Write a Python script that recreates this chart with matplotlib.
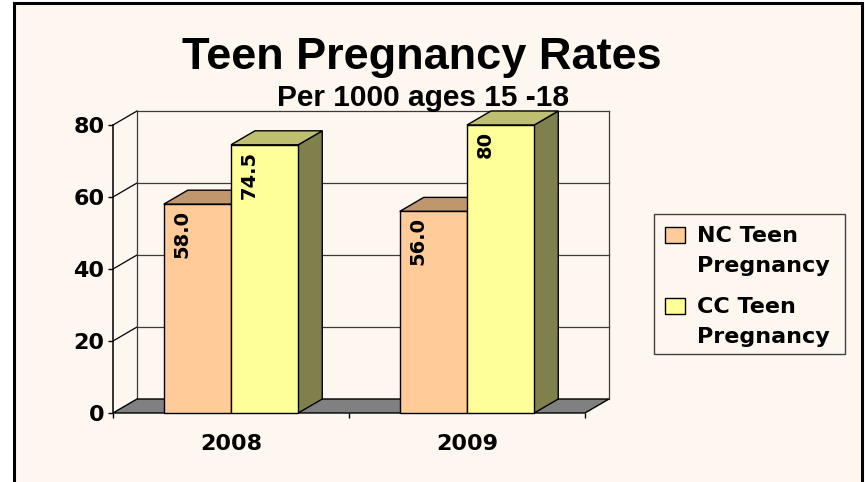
import matplotlib
matplotlib.use('Agg')
import matplotlib.pyplot as plt
from matplotlib.patches import Rectangle, Polygon

# ---- data ----
categories = ['2008', '2009']
series_names = ['NC Teen\nPregnancy', 'CC Teen\nPregnancy']
nc_values = [58.0, 56.0]
cc_values = [74.5, 80.0]
nc_labels = ['58.0', '56.0']
cc_labels = ['74.5', '80']
y_ticks = [0, 20, 40, 60, 80]

title = 'Teen Pregnancy Rates'
subtitle = 'Per 1000 ages 15 -18'

# ---- style ----
W, H = 865, 482
BG = '#FEF7EF'
NC_FRONT, NC_TOP, NC_SIDE = '#FFCC99', '#C0976C', '#80664C'
CC_FRONT, CC_TOP, CC_SIDE = '#FFFF99', '#BFBF72', '#80804C'
GRID = '#3A3A3A'

fig = plt.figure(figsize=(W / 100, H / 100), dpi=100)
fig.patch.set_facecolor('white')

# chart area background + border
fig.add_artist(Rectangle((14 / W, -0.05), (862 - 14) / W, 1.05 - 3 / H,
                         transform=fig.transFigure, facecolor=BG,
                         edgecolor='black', linewidth=2.2, zorder=-5))

ax = fig.add_axes([113 / W, (H - 413) / H, 472 / W, 288 / H])
ax.set_xlim(-0.5, 1.5)
ax.set_ylim(0, 80)
ax.patch.set_visible(False)
for s in ['top', 'right', 'bottom']:
    ax.spines[s].set_visible(False)
ax.spines['left'].set_linewidth(1.1)
ax.spines['left'].set_zorder(2)

# depth offset (in data units)
DX = 24 / 236
DY = 14 / 3.6

# back wall and side wall lines
x_left, x_right = -0.5, 1.5
for v in y_ticks:
    if v > 0:
        ax.plot([x_left + DX, x_right + DX], [v + DY, v + DY], color=GRID,
                lw=0.9, clip_on=False, zorder=1)
        ax.plot([x_left, x_left + DX], [v, v + DY], color='black',
                lw=0.9, clip_on=False, zorder=1)
ax.plot([x_left + DX] * 2, [DY, y_ticks[-1] + DY], color=GRID, lw=0.9,
        clip_on=False, zorder=1)
ax.plot([x_right + DX] * 2, [DY, y_ticks[-1] + DY], color=GRID, lw=0.9,
        clip_on=False, zorder=1)

# floor
ax.add_patch(Polygon([(x_left, 0), (x_right, 0), (x_right + DX, DY),
                      (x_left + DX, DY)], closed=True, facecolor='#808080',
                     edgecolor='black', lw=1, clip_on=False, zorder=1.5))

# bars
bw = 0.285


def bar3d(x0, h, front, top, side, z):
    ax.add_patch(Polygon([(x0 + bw, 0), (x0 + bw, h), (x0 + bw + DX, h + DY),
                          (x0 + bw + DX, DY)], closed=True, facecolor=side,
                         edgecolor='black', lw=1, clip_on=False, zorder=z))
    ax.add_patch(Polygon([(x0, h), (x0 + bw, h), (x0 + bw + DX, h + DY),
                          (x0 + DX, h + DY)], closed=True, facecolor=top,
                         edgecolor='black', lw=1, clip_on=False, zorder=z))
    ax.add_patch(Rectangle((x0, 0), bw, h, facecolor=front, edgecolor='black',
                           lw=1, clip_on=False, zorder=z))


for i, cat in enumerate(categories):
    bar3d(i - bw, nc_values[i], NC_FRONT, NC_TOP, NC_SIDE, 3)
    bar3d(i, cc_values[i], CC_FRONT, CC_TOP, CC_SIDE, 4)
    ax.text(i - bw + 0.076, nc_values[i] - 1.6, nc_labels[i], rotation=90,
            ha='center', va='top', fontsize=14, fontweight='bold', zorder=6)
    ax.text(i + 0.076, cc_values[i] - 1.6, cc_labels[i], rotation=90,
            ha='center', va='top', fontsize=14, fontweight='bold', zorder=6)

# axes ticks
ax.set_yticks(y_ticks)
ax.set_yticklabels([str(v) for v in y_ticks], fontsize=16, fontweight='bold')
ax.tick_params(axis='y', length=3.6, width=1, pad=2.5, direction='out')
ax.set_xticks(range(len(categories)))
ax.set_xticklabels(categories, fontsize=16, fontweight='bold')
ax.set_xticks([-0.5, 0.5, 1.5], minor=True)
ax.tick_params(axis='x', which='major', length=0, pad=15)
ax.tick_params(axis='x', which='minor', length=3.6, width=1, direction='out')

# titles
fig.text(422 / W, 1 - 57 / H, title, ha='center', va='center', fontsize=32.5,
         fontweight='bold', family='Liberation Sans')
fig.text(423 / W, 1 - 98 / H, subtitle, ha='center', va='center', fontsize=21.5,
         fontweight='bold', family='Liberation Sans')

# legend
fig.add_artist(Rectangle((654 / W, (H - 354) / H), 191 / W, 140 / H,
                         transform=fig.transFigure, facecolor='none',
                         edgecolor='#404040', lw=1, zorder=5))
sw_colors = [NC_FRONT, CC_FRONT]
sw_tops = [227, 298]
for name, col, ytop in zip(series_names, sw_colors, sw_tops):
    fig.add_artist(Rectangle((665 / W, (H - ytop - 16) / H), 20 / W, 16 / H,
                             transform=fig.transFigure, facecolor=col,
                             edgecolor='black', lw=1, zorder=6))
    fig.text(697 / W, 1 - (ytop - 1) / H, name, ha='left', va='top',
             fontsize=16, fontweight='bold', linespacing=1.62, zorder=6)

fig.savefig('out.png', dpi=100, facecolor=fig.get_facecolor())
